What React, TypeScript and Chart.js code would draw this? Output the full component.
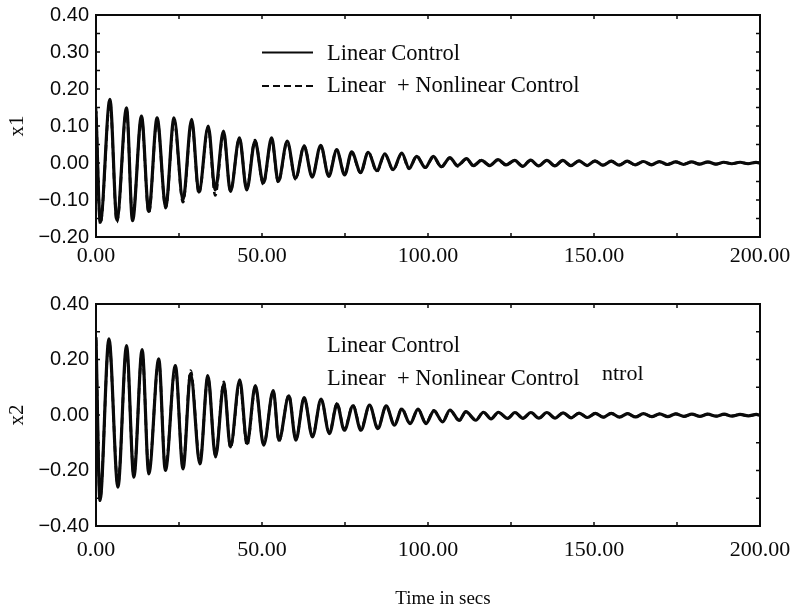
import React, { useEffect, useRef } from 'react';
import { Chart, registerables } from 'chart.js';

Chart.register(...registerables);

// ---------- data ----------
const seriesNames = ['Linear Control', 'Linear  + Nonlinear Control'];
const xTickValues = [0, 50, 100, 150, 200];
const x1TickValues = [-0.2, -0.1, 0, 0.1, 0.2, 0.3, 0.4];
const x2TickValues = [-0.4, -0.2, 0, 0.2, 0.4];
const xTitle = 'Time in secs';

// x1: turning points (time in secs)
const x1Time = [
  0.0, 1.3, 4.2, 6.3, 9.2, 11.0, 13.7, 15.9, 18.4, 21.0, 23.5, 26.2, 28.8, 31.0, 33.8, 35.9,
  38.4, 40.5, 43.2, 45.4, 47.9, 50.4, 52.9, 54.9, 57.6, 60.1, 62.7, 65.1, 67.7, 70.1, 72.5, 74.9,
  77.0, 79.7, 82.0, 84.6, 87.0, 89.5, 92.1, 94.3, 96.6, 99.2, 101.6, 104.0, 106.6, 108.9, 111.6, 113.7,
  116.1, 118.6, 121.1, 123.5, 126.1, 128.5, 130.9, 133.3, 135.8, 138.2, 140.6, 143.0, 145.5, 147.9,
  150.3, 152.7, 155.2, 157.6, 160.0, 162.4, 164.9, 167.3, 169.7, 172.1, 174.6, 177.0, 179.4, 181.8,
  184.3, 186.7, 189.1, 191.5, 194.0, 196.4, 198.8, 200.0,
];
const x1Linear = [
  0.14, -0.16, 0.172, -0.154, 0.149, -0.156, 0.127, -0.131, 0.122, -0.118, 0.122, -0.1, 0.118, -0.079, 0.1, -0.073,
  0.086, -0.077, 0.068, -0.073, 0.059, -0.054, 0.068, -0.05, 0.059, -0.041, 0.045, -0.038, 0.048, -0.036, 0.035, -0.032,
  0.03, -0.025, 0.029, -0.021, 0.025, -0.018, 0.027, -0.014, 0.018, -0.012, 0.018, -0.01, 0.014, -0.007, 0.012, -0.007,
  0.007, -0.007, 0.009, -0.005, 0.007, -0.009, 0.008, -0.008, 0.007, -0.008, 0.007, -0.007, 0.006, -0.007,
  0.006, -0.006, 0.005, -0.006, 0.005, -0.005, 0.004, -0.005, 0.004, -0.004, 0.003, -0.004, 0.003, -0.003,
  0.003, -0.003, 0.002, -0.002, 0.002, -0.002, 0.002, 0.0,
];
const x1Nonlinear = [
  0.15, -0.165, 0.165, -0.16, 0.143, -0.15, 0.122, -0.136, 0.118, -0.122, 0.116, -0.106, 0.112, -0.083, 0.096, -0.088,
  0.082, -0.075, 0.066, -0.07, 0.062, -0.058, 0.064, -0.052, 0.056, -0.044, 0.047, -0.036, 0.045, -0.034, 0.037, -0.03,
  0.028, -0.027, 0.03, -0.023, 0.023, -0.019, 0.025, -0.016, 0.019, -0.013, 0.016, -0.011, 0.015, -0.009, 0.011, -0.008,
  0.008, -0.006, 0.008, -0.006, 0.007, -0.008, 0.007, -0.008, 0.007, -0.007, 0.006, -0.007, 0.006, -0.006,
  0.005, -0.006, 0.005, -0.005, 0.004, -0.005, 0.004, -0.004, 0.003, -0.004, 0.003, -0.003, 0.003, -0.003,
  0.002, -0.003, 0.002, -0.002, 0.002, -0.002, 0.001, 0.0,
];

// x2: turning points (time in secs)
const x2Time = [
  0.0, 1.2, 3.9, 6.6, 9.2, 11.4, 13.9, 15.9, 18.9, 20.9, 23.9, 26.2, 28.5, 31.3, 33.7, 36.0,
  38.5, 40.5, 43.3, 45.5, 48.0, 50.5, 53.4, 55.1, 58.1, 60.2, 62.7, 65.2, 67.8, 70.3, 72.6, 74.8,
  77.4, 79.8, 82.4, 84.9, 87.4, 89.9, 92.1, 94.6, 97.0, 99.4, 101.8, 104.4, 106.6, 109.4, 111.4, 114.4,
  116.7, 119.0, 121.2, 124.0, 126.2, 128.6, 131.0, 133.4, 135.8, 138.3, 140.7, 143.1, 145.5, 148.0,
  150.4, 152.8, 155.2, 157.7, 160.1, 162.5, 164.9, 167.4, 169.8, 172.2, 174.6, 177.1, 179.5, 181.9,
  184.3, 186.8, 189.2, 191.6, 194.0, 196.5, 198.9, 200.0,
];
const x2Linear = [
  0.28, -0.308, 0.274, -0.26, 0.25, -0.224, 0.236, -0.212, 0.202, -0.2, 0.178, -0.194, 0.148, -0.176, 0.142, -0.151,
  0.112, -0.115, 0.127, -0.103, 0.106, -0.109, 0.088, -0.091, 0.069, -0.091, 0.063, -0.079, 0.057, -0.067, 0.039, -0.055,
  0.033, -0.055, 0.036, -0.049, 0.033, -0.037, 0.021, -0.031, 0.021, -0.031, 0.015, -0.025, 0.018, -0.019, 0.012, -0.019,
  0.01, -0.014, 0.01, -0.012, 0.009, -0.012, 0.009, -0.011, 0.009, -0.011, 0.008, -0.01, 0.007, -0.009,
  0.006, -0.008, 0.006, -0.008, 0.005, -0.007, 0.005, -0.006, 0.004, -0.006, 0.004, -0.005, 0.003, -0.005,
  0.003, -0.004, 0.003, -0.004, 0.002, -0.003, 0.002, -0.002,
];
const x2Nonlinear = [
  0.27, -0.3, 0.265, -0.25, 0.235, -0.215, 0.228, -0.205, 0.195, -0.192, 0.172, -0.186, 0.16, -0.17, 0.136, -0.145,
  0.12, -0.118, 0.118, -0.11, 0.1, -0.105, 0.085, -0.095, 0.072, -0.087, 0.06, -0.076, 0.055, -0.064, 0.042, -0.052,
  0.036, -0.05, 0.034, -0.046, 0.031, -0.035, 0.024, -0.03, 0.02, -0.028, 0.017, -0.024, 0.016, -0.02, 0.011, -0.017,
  0.01, -0.013, 0.009, -0.012, 0.009, -0.011, 0.009, -0.011, 0.008, -0.01, 0.008, -0.01, 0.007, -0.009,
  0.006, -0.008, 0.006, -0.007, 0.005, -0.007, 0.005, -0.006, 0.004, -0.005, 0.004, -0.005, 0.003, -0.004,
  0.003, -0.004, 0.002, -0.003, 0.002, -0.003, 0.002, -0.002,
];

// ---------- helpers ----------
const INK = '#0a0a0a';
const SERIF = '"Liberation Serif", "Times New Roman", serif';
const SANS = '"Liberation Sans", Arial, sans-serif';

function fmt(v: number): string {
  if (Math.abs(v) < 1e-9) return '0.00';
  const s = Number(v).toFixed(2);
  return s.startsWith('-') ? '\u2212' + s.slice(1) : s;
}

const decorPlugin = {
  id: 'decor',
  afterDraw(chart: any, _args: any, opts: any) {
    const { ctx, chartArea: a, scales } = chart;
    const xs = scales.x;
    const ys = scales.y;
    ctx.save();
    ctx.strokeStyle = INK;
    ctx.fillStyle = INK;
    const seg = (x1: number, y1: number, x2: number, y2: number) => {
      ctx.beginPath();
      ctx.moveTo(x1, y1);
      ctx.lineTo(x2, y2);
      ctx.stroke();
    };
    // inward tick marks on all four sides
    ctx.lineWidth = 1.5;
    const tl = 4;
    const nx = Math.round((xs.max - xs.min) / opts.minorX);
    for (let i = 0; i <= nx; i++) {
      const px = xs.getPixelForValue(xs.min + i * opts.minorX);
      seg(px, a.bottom, px, a.bottom - tl);
      seg(px, a.top, px, a.top + tl);
    }
    const ny = Math.round((ys.max - ys.min) / opts.minorY);
    for (let i = 0; i <= ny; i++) {
      const py = ys.getPixelForValue(ys.min + i * opts.minorY);
      seg(a.left, py, a.left + tl, py);
      seg(a.right, py, a.right - tl, py);
    }
    // frame
    ctx.lineWidth = 2;
    ctx.strokeRect(a.left, a.top, a.right - a.left, a.bottom - a.top);
    // legend samples
    for (const s of opts.samples || []) {
      ctx.setLineDash(s.dash);
      ctx.lineWidth = s.w;
      seg(s.x1, s.y, s.x2, s.y);
    }
    ctx.setLineDash([]);
    // texts
    for (const t of opts.texts || []) {
      ctx.font = t.font;
      ctx.textAlign = t.align || 'left';
      ctx.textBaseline = 'alphabetic';
      ctx.fillText(t.text, t.x, t.y);
    }
    ctx.restore();
  },
};

function makeConfig(
  time: number[],
  lin: number[],
  nonlin: number[],
  yTicks: number[],
  yTitle: string,
  minorY: number,
  layout: { top: number; xHeight: number; xPad: number },
  texts: any[],
  samples: any[],
) {
  const ptsA = time.map((t, i) => ({ x: t, y: lin[i] }));
  const ptsB = time.map((t, i) => ({ x: t, y: nonlin[i] }));
  return {
    type: 'line',
    data: {
      datasets: [
        {
          label: seriesNames[0],
          data: ptsA,
          borderColor: INK,
          borderWidth: 3.2,
          pointRadius: 0,
          cubicInterpolationMode: 'monotone',
          fill: false,
        },
        {
          label: seriesNames[1],
          data: ptsB,
          borderColor: INK,
          borderWidth: 2.6,
          borderDash: [6, 4],
          pointRadius: 0,
          cubicInterpolationMode: 'monotone',
          fill: false,
        },
      ],
    },
    options: {
      animation: false,
      responsive: false,
      events: [],
      layout: { padding: { top: layout.top, right: 36, left: 0, bottom: 0 } },
      plugins: {
        legend: { display: false },
        tooltip: { enabled: false },
        decor: { minorX: 25, minorY, texts, samples },
      },
      scales: {
        x: {
          type: 'linear',
          min: 0,
          max: 200,
          afterBuildTicks: (s: any) => {
            s.ticks = xTickValues.map((v) => ({ value: v }));
          },
          afterFit: (s: any) => {
            s.height = layout.xHeight;
            s.paddingLeft = 0;
            s.paddingRight = 0;
          },
          grid: { display: false, drawTicks: false },
          border: { display: false },
          ticks: {
            autoSkip: false,
            maxRotation: 0,
            padding: layout.xPad,
            color: INK,
            font: { family: SERIF, size: 22 },
            callback: (v: any) => Number(v).toFixed(2),
          },
        },
        y: {
          type: 'linear',
          min: yTicks[0],
          max: yTicks[yTicks.length - 1],
          afterBuildTicks: (s: any) => {
            s.ticks = yTicks.map((v) => ({ value: v }));
          },
          afterFit: (s: any) => {
            s.width = 96;
            s.paddingTop = 0;
            s.paddingBottom = 0;
          },
          grid: { display: false, drawTicks: false },
          border: { display: false },
          title: {
            display: true,
            text: yTitle,
            color: INK,
            font: { family: SERIF, size: 21 },
            padding: { top: 5, bottom: 0 },
          },
          ticks: {
            autoSkip: false,
            padding: 7,
            color: INK,
            font: { family: SANS, size: 20 },
            callback: (v: any) => fmt(Number(v)),
          },
        },
      },
    },
    plugins: [decorPlugin],
  };
}

export default function App() {
  const topRef = useRef<HTMLCanvasElement>(null);
  const botRef = useRef<HTMLCanvasElement>(null);

  useEffect(() => {
    const legendFont = `22.5px ${SERIF}`;
    const c1 = new Chart(
      topRef.current as HTMLCanvasElement,
      makeConfig(
        x1Time,
        x1Linear,
        x1Nonlinear,
        x1TickValues,
        'x1',
        0.05,
        { top: 15, xHeight: 43, xPad: 6 },
        [
          { text: seriesNames[0], x: 327, y: 60, font: legendFont },
          { text: seriesNames[1], x: 327, y: 91.5, font: legendFont },
        ],
        [
          { x1: 262, x2: 313, y: 52.5, w: 2, dash: [] },
          { x1: 262, x2: 316, y: 86, w: 1.8, dash: [7, 4] },
        ],
      ) as any,
    );
    const c2 = new Chart(
      botRef.current as HTMLCanvasElement,
      makeConfig(
        x2Time,
        x2Linear,
        x2Nonlinear,
        x2TickValues,
        'x2',
        0.1,
        { top: 24, xHeight: 86, xPad: 11 },
        [
          { text: seriesNames[0], x: 327, y: 72, font: legendFont },
          { text: seriesNames[1], x: 327, y: 105, font: legendFont },
          { text: 'ntrol', x: 602, y: 100, font: `22px ${SERIF}` },
          { text: xTitle, x: 443, y: 324, font: `19px ${SERIF}`, align: 'center' },
        ],
        [],
      ) as any,
    );
    return () => {
      c1.destroy();
      c2.destroy();
    };
  }, []);

  return (
    <div
      style={{
        position: 'absolute',
        left: 0,
        top: 0,
        width: 796,
        height: 612,
        background: '#fff',
        overflow: 'hidden',
      }}
    >
      <canvas
        ref={topRef}
        width={796}
        height={280}
        style={{ position: 'absolute', left: 0, top: 0, width: 796, height: 280 }}
      />
      <canvas
        ref={botRef}
        width={796}
        height={332}
        style={{ position: 'absolute', left: 0, top: 280, width: 796, height: 332 }}
      />
    </div>
  );
}
